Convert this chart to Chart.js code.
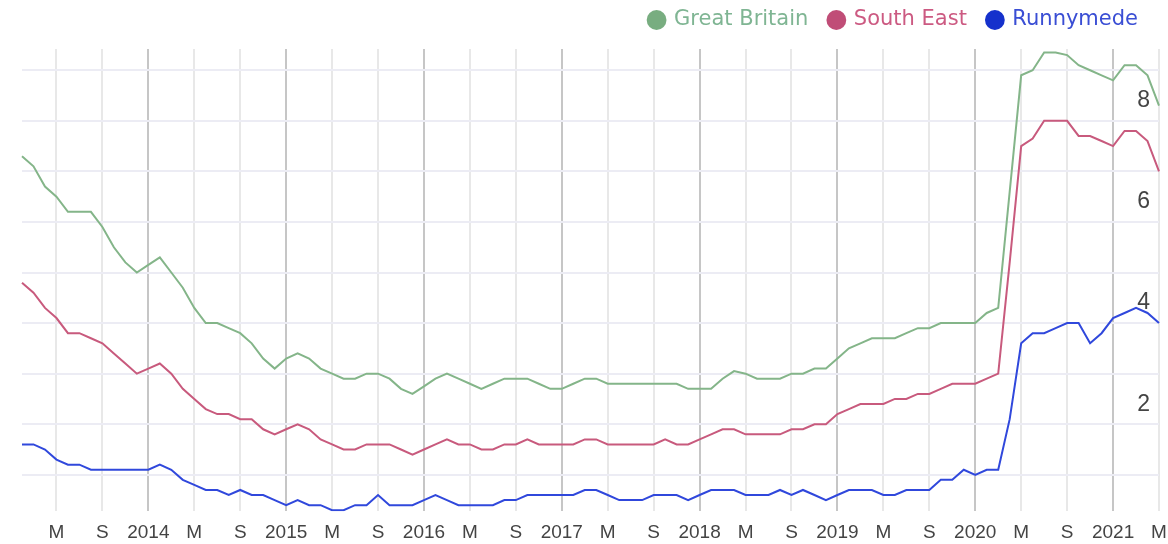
<!DOCTYPE html>
<html>
<head>
<meta charset="utf-8">
<script src="https://cdn.jsdelivr.net/npm/chart.js@4/dist/chart.umd.min.js"></script>
<style>
  body { margin: 0; background: #fff; }
  #wrap { width: 1168px; height: 544px; position: relative; }
</style>
</head>
<body>
<div id="wrap"><canvas id="rateChart"></canvas></div>
<script>
// months shown, Feb 2013 .. May 2021
var months = [
    '2013-02', '2013-03', '2013-04', '2013-05', '2013-06', '2013-07', '2013-08', '2013-09', '2013-10', '2013-11', '2013-12',
    '2014-01', '2014-02', '2014-03', '2014-04', '2014-05', '2014-06', '2014-07', '2014-08', '2014-09', '2014-10', '2014-11', '2014-12',
    '2015-01', '2015-02', '2015-03', '2015-04', '2015-05', '2015-06', '2015-07', '2015-08', '2015-09', '2015-10', '2015-11', '2015-12',
    '2016-01', '2016-02', '2016-03', '2016-04', '2016-05', '2016-06', '2016-07', '2016-08', '2016-09', '2016-10', '2016-11', '2016-12',
    '2017-01', '2017-02', '2017-03', '2017-04', '2017-05', '2017-06', '2017-07', '2017-08', '2017-09', '2017-10', '2017-11', '2017-12',
    '2018-01', '2018-02', '2018-03', '2018-04', '2018-05', '2018-06', '2018-07', '2018-08', '2018-09', '2018-10', '2018-11', '2018-12',
    '2019-01', '2019-02', '2019-03', '2019-04', '2019-05', '2019-06', '2019-07', '2019-08', '2019-09', '2019-10', '2019-11', '2019-12',
    '2020-01', '2020-02', '2020-03', '2020-04', '2020-05', '2020-06', '2020-07', '2020-08', '2020-09', '2020-10', '2020-11', '2020-12',
    '2021-01', '2021-02', '2021-03', '2021-04', '2021-05'
];

var greatBritain = [
    7.3, 7.1, 6.7, 6.5, 6.2, 6.2, 6.2, 5.9, 5.5, 5.2, 5.0,
    5.15, 5.3, 5.0, 4.7, 4.3, 4.0, 4.0, 3.9, 3.8, 3.6, 3.3, 3.1,
    3.3, 3.4, 3.3, 3.1, 3.0, 2.9, 2.9, 3.0, 3.0, 2.9, 2.7, 2.6,
    2.75, 2.9, 3.0, 2.9, 2.8, 2.7, 2.8, 2.9, 2.9, 2.9, 2.8, 2.7,
    2.7, 2.8, 2.9, 2.9, 2.8, 2.8, 2.8, 2.8, 2.8, 2.8, 2.8, 2.7,
    2.7, 2.7, 2.9, 3.05, 3.0, 2.9, 2.9, 2.9, 3.0, 3.0, 3.1, 3.1,
    3.3, 3.5, 3.6, 3.7, 3.7, 3.7, 3.8, 3.9, 3.9, 4.0, 4.0, 4.0,
    4.0, 4.2, 4.3, 6.6, 8.9, 9.0, 9.35, 9.35, 9.3, 9.1, 9.0, 8.9,
    8.8, 9.1, 9.1, 8.9, 8.3
];

var southEast = [
    4.8, 4.6, 4.3, 4.1, 3.8, 3.8, 3.7, 3.6, 3.4, 3.2, 3.0,
    3.1, 3.2, 3.0, 2.7, 2.5, 2.3, 2.2, 2.2, 2.1, 2.1, 1.9, 1.8,
    1.9, 2.0, 1.9, 1.7, 1.6, 1.5, 1.5, 1.6, 1.6, 1.6, 1.5, 1.4,
    1.5, 1.6, 1.7, 1.6, 1.6, 1.5, 1.5, 1.6, 1.6, 1.7, 1.6, 1.6,
    1.6, 1.6, 1.7, 1.7, 1.6, 1.6, 1.6, 1.6, 1.6, 1.7, 1.6, 1.6,
    1.7, 1.8, 1.9, 1.9, 1.8, 1.8, 1.8, 1.8, 1.9, 1.9, 2.0, 2.0,
    2.2, 2.3, 2.4, 2.4, 2.4, 2.5, 2.5, 2.6, 2.6, 2.7, 2.8, 2.8,
    2.8, 2.9, 3.0, 5.2, 7.5, 7.65, 8.0, 8.0, 8.0, 7.7, 7.7, 7.6,
    7.5, 7.8, 7.8, 7.6, 7.0
];

var runnymede = [
    1.6, 1.6, 1.5, 1.3, 1.2, 1.2, 1.1, 1.1, 1.1, 1.1, 1.1,
    1.1, 1.2, 1.1, 0.9, 0.8, 0.7, 0.7, 0.6, 0.7, 0.6, 0.6, 0.5,
    0.4, 0.5, 0.4, 0.4, 0.3, 0.3, 0.4, 0.4, 0.6, 0.4, 0.4, 0.4,
    0.5, 0.6, 0.5, 0.4, 0.4, 0.4, 0.4, 0.5, 0.5, 0.6, 0.6, 0.6,
    0.6, 0.6, 0.7, 0.7, 0.6, 0.5, 0.5, 0.5, 0.6, 0.6, 0.6, 0.5,
    0.6, 0.7, 0.7, 0.7, 0.6, 0.6, 0.6, 0.7, 0.6, 0.7, 0.6, 0.5,
    0.6, 0.7, 0.7, 0.7, 0.6, 0.6, 0.7, 0.7, 0.7, 0.9, 0.9, 1.1,
    1.0, 1.1, 1.1, 2.1, 3.6, 3.8, 3.8, 3.9, 4.0, 4.0, 3.6, 3.8,
    4.1, 4.2, 4.3, 4.2, 4.0
];

// x labels: year in January, then May and September
var monthTicks = { '01': 'year', '05': 'M', '09': 'S' };
var yGridValues = [1, 2, 3, 4, 5, 6, 7, 8, 9];
var yLabelValues = [2, 4, 6, 8];

var lineColors = ['#84b589', '#c85a7d', '#3048dc'];
var markerColors = ['#78ad80', '#c04d77', '#1531cc'];
var legendTextColors = ['#7fb593', '#cc5a82', '#3a4ed4'];

function monthPart(i) {
    return months[i].slice(5);
}

// push the plot down a bit under the legend
var legendSpacer = {
    id: 'legendSpacer',
    beforeInit: function (chart) {
        var fit = chart.legend.fit;
        chart.legend.fit = function () {
            fit.call(this);
            this.height += 8.5;
        };
    }
};

var lineData = {
    labels: months,
    datasets: [{
        label: 'Great Britain',
        data: greatBritain,
        borderColor: lineColors[0],
        backgroundColor: markerColors[0]
    }, {
        label: 'South East',
        data: southEast,
        borderColor: lineColors[1],
        backgroundColor: markerColors[1]
    }, {
        label: 'Runnymede',
        data: runnymede,
        borderColor: lineColors[2],
        backgroundColor: markerColors[2]
    }]
};

var lineOptions = {
    responsive: true,
    maintainAspectRatio: false,
    animation: false,
    layout: {
        padding: { left: 22, right: 9, top: -11.5, bottom: 0 }
    },
    elements: {
        line: { borderWidth: 2, tension: 0, fill: false },
        point: { radius: 0, hoverRadius: 0 }
    },
    plugins: {
        tooltip: { enabled: false },
        legend: {
            position: 'top',
            align: 'end',
            labels: {
                usePointStyle: true,
                pointStyle: 'circle',
                boxWidth: 14,
                boxHeight: 14,
                padding: 21,
                font: { family: 'DejaVu Sans', size: 21 },
                generateLabels: function (chart) {
                    var items = Chart.defaults.plugins.legend.labels.generateLabels(chart);
                    items.forEach(function (item, i) {
                        item.fillStyle = markerColors[i];
                        item.strokeStyle = markerColors[i];
                        item.fontColor = legendTextColors[i];
                        item.lineWidth = 0;
                    });
                    return items;
                }
            }
        }
    },
    scales: {
        x: {
            type: 'category',
            afterBuildTicks: function (axis) {
                axis.ticks = axis.ticks.filter(function (t) {
                    return monthTicks[monthPart(t.value)] !== undefined;
                });
            },
            border: { display: false },
            grid: {
                color: function (ctx) {
                    return ctx.tick && monthPart(ctx.tick.value) === '01' ? '#c6c6c6' : '#e8e8e8';
                },
                lineWidth: 2,
                drawTicks: true,
                tickLength: 10,
                tickColor: 'rgba(0,0,0,0)'
            },
            ticks: {
                autoSkip: false,
                maxRotation: 0,
                padding: 0,
                color: '#444',
                font: { family: 'Liberation Sans', size: 19 },
                callback: function (value) {
                    var name = monthTicks[monthPart(value)];
                    return name === 'year' ? months[value].slice(0, 4) : name;
                }
            }
        },
        y: {
            position: 'right',
            min: 0.28,
            max: 9.42,
            afterBuildTicks: function (axis) {
                axis.ticks = yGridValues.map(function (v) { return { value: v }; });
            },
            border: { display: false },
            grid: { color: '#ececf4', lineWidth: 2, drawTicks: false },
            ticks: {
                mirror: true,
                padding: -9,
                labelOffset: -20,
                color: '#444',
                font: { family: 'Liberation Sans', size: 23 },
                callback: function (value) {
                    return yLabelValues.indexOf(value) >= 0 ? value : '';
                }
            }
        }
    }
};

var rateChart = new Chart(document.getElementById('rateChart'), {
    type: 'line',
    data: lineData,
    options: lineOptions,
    plugins: [legendSpacer]
});
</script>
</body>
</html>
